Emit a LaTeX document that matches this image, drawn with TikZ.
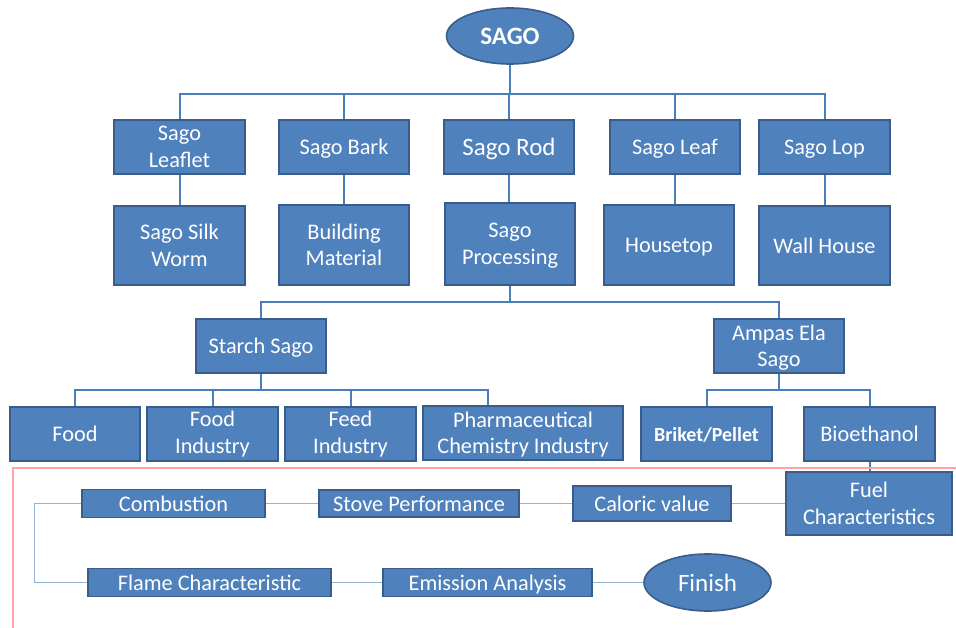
\documentclass[tikz,border=0pt]{standalone}
\usepackage{fontspec}
\setmainfont{Carlito}
\usepackage{tikz}
\usetikzlibrary{positioning, shapes.geometric}
\definecolor{boxblue}{HTML}{4F81BD}
\definecolor{boxline}{HTML}{385D8A}
\definecolor{linkblue}{HTML}{4A7EBB}
\definecolor{lightlink}{HTML}{95B3D7}
\definecolor{framepink}{HTML}{FFA3A3}
\newcommand{\flatline}[1]{\raisebox{0pt}[\height][0pt]{#1}}

\begin{document}
\begin{tikzpicture}[x=1pt, y=-1pt, box/.style={rectangle, draw=boxline, fill=boxblue, line width=1.6pt, text=white, align=center, inner sep=0pt, font=\fontsize{22.3}{26.5}\selectfont}, flat/.style={text depth=0pt}, oval/.style={ellipse, draw=boxline, fill=boxblue, line width=1.6pt, text=white, inner sep=0pt, font=\fontsize{25}{30}\selectfont}, link/.style={draw=linkblue, line width=2pt}, thinlink/.style={draw=lightlink, line width=1.2pt}, frame/.style={draw=framepink, line width=2pt}]

    \useasboundingbox (0,0) rectangle (956,628);

    % Nodes
    \node[oval, flat, font=\fontsize{25}{30}\selectfont\bfseries, minimum width=127pt, minimum height=56pt] (sago) at (510,36) {SAGO};

    \node[box, minimum width=131pt, minimum height=54pt] (leaflet)    at (179.5,147) {Sago\\Leaflet};
    \node[box, flat, minimum width=130pt, minimum height=54pt] (bark) at (344,147)   {Sago Bark};
    \node[box, flat, minimum width=130pt, minimum height=54pt, font=\fontsize{25}{30}\selectfont] (rod) at (509,147) {Sago Rod};
    \node[box, flat, minimum width=130pt, minimum height=54pt] (leaf) at (675,147)   {Sago Leaf};
    \node[box, flat, minimum width=131pt, minimum height=54pt] (lop)  at (824.5,147) {Sago Lop};

    \node[box, minimum width=131pt, minimum height=79pt] (silkworm)   at (179.5,245.5) {Sago Silk\\Worm};
    \node[box, minimum width=130pt, minimum height=80pt] (building)   at (344,245)   {Building\\Material};
    \node[box, minimum width=130pt, minimum height=82pt] (processing) at (510,244)   {Sago\\\flatline{Processing}};
    \node[box, flat, minimum width=130pt, minimum height=80pt] (housetop) at (669,245) {Housetop};
    \node[box, flat, minimum width=131pt, minimum height=79pt] (wallhouse) at (824.5,245.5) {Wall House};

    \node[box, flat, minimum width=130pt, minimum height=54pt] (starch) at (261,346) {Starch Sago};
    \node[box, minimum width=130pt, minimum height=54pt] (ampas)      at (779,346)   {Ampas Ela\\\flatline{Sago}};

    \node[box, flat, minimum width=130pt, minimum height=54pt] (food) at (75,434)    {Food};
    \node[box, minimum width=131pt, minimum height=54pt] (foodind)    at (212.5,434) {Food\\Industry};
    \node[box, minimum width=131pt, minimum height=54pt] (feedind)    at (350.5,434) {Feed\\Industry};
    \node[box, minimum width=200pt, minimum height=54pt] (pharma)     at (523,433)   {Pharmaceutical\\\flatline{Chemistry Industry}};
    \node[box, flat, minimum width=131pt, minimum height=54pt, font=\fontsize{20}{24}\selectfont\bfseries] (briket) at (706.5,434) {Briket/Pellet};
    \node[box, flat, minimum width=131pt, minimum height=54pt] (bioethanol) at (869.5,434) {Bioethanol};

    % Analysis
    \node[box, minimum width=166pt, minimum height=63pt] (fuel)       at (869,503.5) {Fuel\\Characteristics};
    \node[box, flat, minimum width=158pt, minimum height=35pt] (caloric)    at (652,503.5) {Caloric value};
    \node[box, flat, minimum width=200pt, minimum height=27pt] (stove)      at (419,503.5) {Stove Performance};
    \node[box, flat, minimum width=183pt, minimum height=28pt] (combustion) at (173.5,503.5) {Combustion};
    \node[box, flat, minimum width=243pt, minimum height=28pt] (flame)      at (209.5,582.5) {Flame Characteristic};
    \node[box, flat, minimum width=209pt, minimum height=28pt] (emission)   at (487.5,582.5) {Emission Analysis};
    \node[oval, flat, minimum width=127pt, minimum height=57pt] (finish)    at (707.5,582.5) {Finish};

    % Lines ---------------
    \draw[link] (sago.south) -- ++(0,29) -| (leaflet.north);
    \draw[link] (sago.south) -- ++(0,29) -| (bark.north);
    \draw[link] (sago.south) -- ++(0,29) -| (rod.north);
    \draw[link] (sago.south) -- ++(0,29) -| (leaf.north);
    \draw[link] (sago.south) -- ++(0,29) -| (lop.north);

    \draw[link] (leaflet.south) -- (silkworm.north);
    \draw[link] (bark.south) -- (building.north);
    \draw[link] (rod.south) -- (rod.south |- processing.north);
    \draw[link] (leaf.south) -- (leaf.south |- housetop.north);
    \draw[link] (lop.south) -- (wallhouse.north);

    % Processing
    \draw[link] (processing.south) -- ++(0,16) -| (starch.north);
    \draw[link] (processing.south) -- ++(0,16) -| (ampas.north);

    \draw[link] (starch.south) -- ++(0,16) -| (food.north);
    \draw[link] (starch.south) -- ++(0,16) -| (foodind.north);
    \draw[link] (starch.south) -- ++(0,16) -| (feedind.north);
    \draw[link] (starch.south) -- ++(0,16) -| ([xshift=-35pt]pharma.north);

    \draw[link] (ampas.south) -- ++(0,16) -| (briket.north);
    \draw[link] (ampas.south) -- ++(0,16) -| (bioethanol.north);
    \draw[link] (bioethanol.south) -- (bioethanol.south |- fuel.north);

    % Frame
    \draw[frame] (956,468) -- (13,468) -- (13,628);

    % Analysis chain
    \draw[thinlink] (fuel.west) -- (caloric.east);
    \draw[thinlink] (caloric.west) -- (stove.east);
    \draw[thinlink] (stove.west) -- (combustion.east);
    \draw[thinlink] (combustion.west) -- ++(-47,0) |- (flame.west);
    \draw[thinlink] (flame.east) -- (emission.west);
    \draw[thinlink] (emission.east) -- (finish.west);

\end{tikzpicture}
\end{document}
